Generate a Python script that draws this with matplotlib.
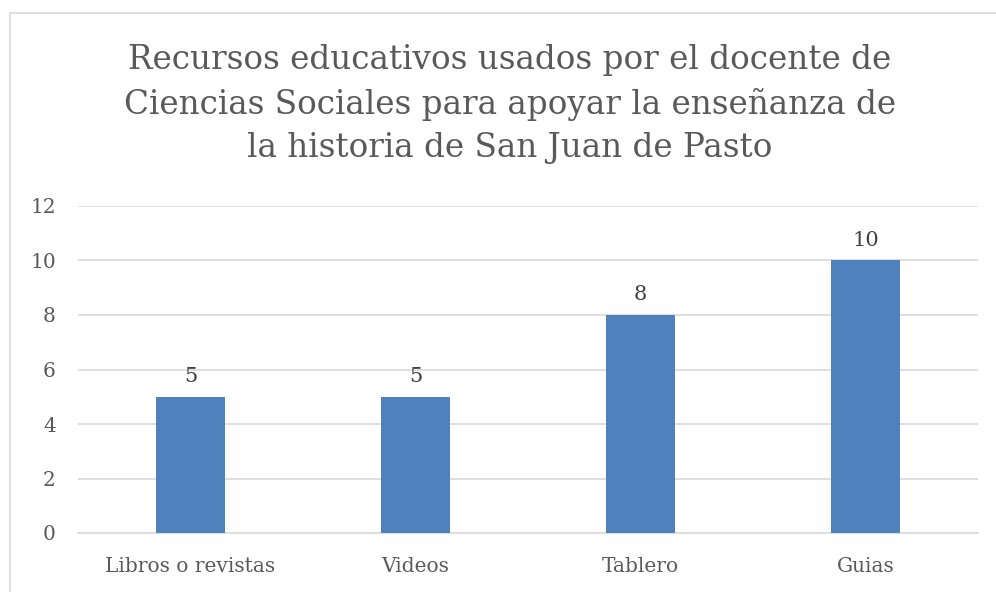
import matplotlib.pyplot as plt
from matplotlib.patches import Rectangle

categories = ["Libros o revistas", "Videos", "Tablero", "Guias"]
values = [5, 5, 8, 10]
y_ticks = [0, 2, 4, 6, 8, 10, 12]
title = ("Recursos educativos usados por el docente de\n"
         "Ciencias Sociales para apoyar la enseñanza de\n"
         "la historia de San Juan de Pasto")

plt.rcParams['font.family'] = ['DejaVu Serif']
text_color = '#595959'
bar_color = '#4f81bd'

fig = plt.figure(figsize=(9.96, 5.92), dpi=100)
fig.patches.append(Rectangle((10 / 996, -0.01), 1.1, 1 - 13 / 592 + 0.01,
                             transform=fig.transFigure, fill=False,
                             edgecolor='#d9d9d9', linewidth=1.2))

ax = fig.add_axes([78 / 996, (592 - 533) / 592, 900 / 996, (533 - 206) / 592])
x = range(len(categories))
bars = ax.bar(x, values, width=0.31, color=bar_color, zorder=3)
for b, v in zip(bars, values):
    ax.text(b.get_x() + b.get_width() / 2, v + 0.4, str(v), ha='center', va='bottom',
            fontsize=15, color='#404040')

ax.set_xlim(-0.5, len(categories) - 0.5)
ax.set_ylim(0, 12)
ax.set_yticks(y_ticks)
ax.set_xticks(list(x))
ax.set_xticklabels(categories)
ax.tick_params(axis='both', length=0, labelsize=14.5, colors=text_color)
ax.tick_params(axis='y', pad=16)
ax.tick_params(axis='x', pad=17)
ax.grid(axis='y', color='#d9d9d9', linewidth=1.2, zorder=0)
for side in ['top', 'right', 'left']:
    ax.spines[side].set_visible(False)
ax.spines['bottom'].set_color('#d9d9d9')
ax.spines['bottom'].set_linewidth(1.2)

fig.text(510 / 996, 1 - 104 / 592, title, ha='center', va='center', fontsize=23.5,
         color=text_color, linespacing=1.45)

fig.savefig('out.png', dpi=100)
